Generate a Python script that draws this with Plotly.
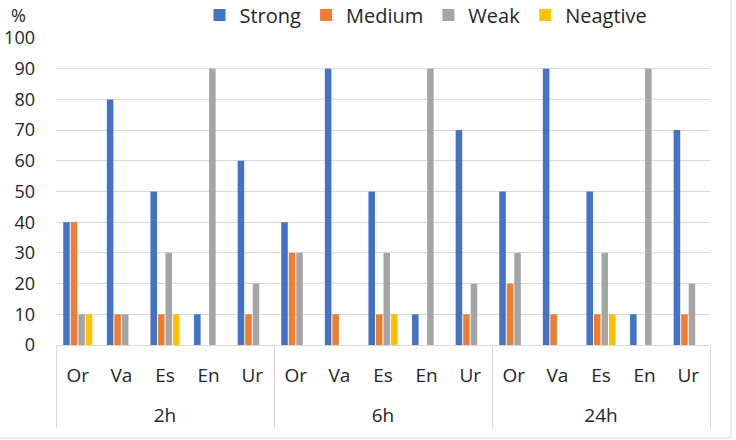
import plotly.graph_objects as go

times = ["2h", "6h", "24h"]
samples = ["Or", "Va", "Es", "En", "Ur"]

strong = [40, 80, 50, 10, 60,  40, 90, 50, 10, 70,  50, 90, 50, 10, 70]
medium = [40, 10, 10, 0, 10,   30, 10, 10, 0, 10,   20, 10, 10, 0, 10]
weak = [10, 10, 30, 90, 20,    30, 0, 30, 90, 20,   30, 0, 30, 90, 20]
negative = [10, 0, 10, 0, 0,   0, 0, 10, 0, 0,      0, 0, 10, 0, 0]

series_names = ["Strong", "Medium", "Weak", "Neagtive"]
colors = ["#4472C4", "#ED7D31", "#A5A5A5", "#FFC000"]

# outer level labels get a leading line break so they sit lower, like the reference
outer = ["<br>" + t for t in times for _ in samples]
inner = [s for _ in times for s in samples]

fig = go.Figure()
for name, vals, col in zip(series_names, [strong, medium, weak, negative], colors):
    fig.add_trace(go.Bar(x=[outer, inner], y=vals, name=name, marker_color=col,
                         marker_line_width=0))

L, R, T, B = 56, 26, 38, 95
W, H = 736, 440
pw, ph = W - L - R, H - T - B

def px(x):
    return (x - L) / pw

def py(y):
    return (H - B - y) / ph

fig.update_layout(
    width=W, height=H,
    margin=dict(l=L, r=R, t=T, b=B, autoexpand=False),
    paper_bgcolor="white", plot_bgcolor="white",
    font=dict(family="Open Sans", size=17, color="#262626"),
    barmode="group", bargap=0.31, bargroupgap=0.13,
    legend=dict(orientation="h", x=px(426), xanchor="center", y=py(15), yanchor="middle",
                font=dict(size=20), itemwidth=30, traceorder="normal",
                bgcolor="rgba(0,0,0,0)"),
    xaxis=dict(type="multicategory", showgrid=False, showline=True, linecolor="#d9d9d9",
               linewidth=1, ticks="", showdividers=True, dividercolor="#d9d9d9",
               dividerwidth=1, automargin=False, ticklabelstandoff=13,
               tickfont=dict(size=19, color="#262626")),
    yaxis=dict(range=[0, 100], dtick=10, showgrid=True, gridcolor="#d9d9d9", gridwidth=1,
               zeroline=False, showline=False, ticks="", automargin=False,
               ticklabelstandoff=20, tickfont=dict(size=18, color="#262626")),
    annotations=[dict(text="%", x=px(18), y=py(15), xref="paper", yref="paper",
                      xanchor="center", yanchor="middle",
                      showarrow=False, font=dict(size=18, color="#262626"))],
    shapes=[
        dict(type="line", xref="paper", yref="paper", x0=px(731), x1=px(731),
             y0=py(438), y1=py(0), line=dict(color="#d9d9d9", width=1), layer="below"),
        dict(type="line", xref="paper", yref="paper", x0=px(0), x1=px(731),
             y0=py(438), y1=py(438), line=dict(color="#d9d9d9", width=1), layer="below"),
    ],
)

fig.write_html("out.html", config={"displayModeBar": False},
               post_script="document.body.style.margin='0';")
